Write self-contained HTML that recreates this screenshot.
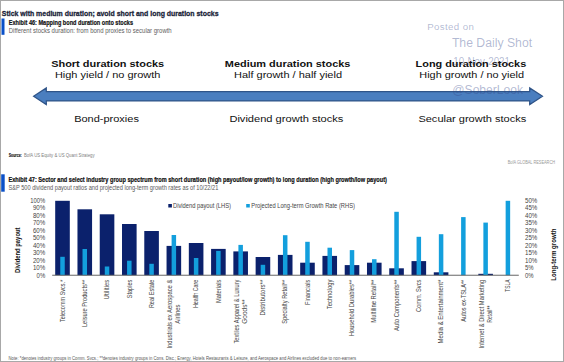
<!DOCTYPE html>
<html><head><meta charset="utf-8"><style>
html,body{margin:0;padding:0;background:#fff;}
body{width:564px;height:362px;overflow:hidden;position:relative;}
svg{position:absolute;left:0;top:0;font-family:"Liberation Sans", sans-serif;}
.frame{position:absolute;left:0;top:0;width:562px;height:360px;border:1px solid #a8a8a8;}
</style></head><body>
<svg width="564" height="362" viewBox="0 0 564 362">
<text x="1.8" y="15.7" font-size="7.9" font-weight="bold" fill="#1a1f38" textLength="216.7" lengthAdjust="spacingAndGlyphs" stroke="#1a1f38" stroke-width="0.3">Stick with medium duration; avoid short and long duration stocks</text>
<rect x="1.5" y="18.5" width="3" height="16.3" fill="#0a50c8"/>
<text x="8.8" y="24.8" font-size="7.0" font-weight="bold" fill="#111" textLength="124.2" lengthAdjust="spacingAndGlyphs" stroke="#111" stroke-width="0.2">Exhibit 46: Mapping bond duration onto stocks</text>
<text x="8.8" y="33.3" font-size="7.2" fill="#5e5e5e" textLength="162.9" lengthAdjust="spacingAndGlyphs">Different stocks duration: from bond proxies to secular growth</text>
<polygon points="33.6,96.2 46.3,87.9 46.3,91.6 529.7,91.6 529.7,87.9 542.5,96.2 529.7,104.6 529.7,100.9 46.3,100.9 46.3,104.6" fill="#4a7ebf" stroke="#2f5488" stroke-width="1.2" stroke-linejoin="miter"/>
<g fill-opacity="0.38"><text x="427.2" y="29.9" font-size="9.7" fill="#34488a" textLength="46.6" lengthAdjust="spacing">Posted on</text><text x="451.9" y="46.5" font-size="12.5" fill="#34488a" textLength="80.2" lengthAdjust="spacingAndGlyphs">The Daily Shot</text><text x="453.3" y="64.6" font-size="10" fill="#34488a" textLength="56.7" lengthAdjust="spacingAndGlyphs">10-Nov-2021</text><text x="452.3" y="94.2" font-size="12.0" fill="#34488a" textLength="70.8" lengthAdjust="spacingAndGlyphs">@SoberLook</text></g>
<text x="51.2" y="66.9" font-size="9.6" font-weight="bold" fill="#111" textLength="113" lengthAdjust="spacingAndGlyphs">Short duration stocks</text>
<text x="54.9" y="77.8" font-size="9.6" fill="#111" textLength="105.4" lengthAdjust="spacingAndGlyphs">High yield / no growth</text>
<text x="224.8" y="66.9" font-size="9.6" font-weight="bold" fill="#111" textLength="125.6" lengthAdjust="spacingAndGlyphs">Medium duration stocks</text>
<text x="234" y="77.8" font-size="9.6" fill="#111" textLength="108" lengthAdjust="spacingAndGlyphs">Half growth / half yield</text>
<text x="415.6" y="66.9" font-size="9.6" font-weight="bold" fill="#111" textLength="110.6" lengthAdjust="spacingAndGlyphs">Long duration stocks</text>
<text x="419.3" y="77.8" font-size="9.6" fill="#111" textLength="104.7" lengthAdjust="spacingAndGlyphs">High growth / no yield</text>
<text x="74.2" y="122" font-size="9.6" fill="#111" textLength="64.7" lengthAdjust="spacingAndGlyphs">Bond-proxies</text>
<text x="229.4" y="122" font-size="9.6" fill="#111" textLength="114" lengthAdjust="spacingAndGlyphs">Dividend growth stocks</text>
<text x="418.4" y="122" font-size="9.6" fill="#111" textLength="107.8" lengthAdjust="spacingAndGlyphs">Secular growth stocks</text>
<text x="8.7" y="156.8" font-size="4.9" font-weight="bold" fill="#111" textLength="13.1" lengthAdjust="spacingAndGlyphs" stroke="#111" stroke-width="0.15">Source:</text>
<text x="23.9" y="156.8" font-size="4.8" fill="#808080" textLength="70.7" lengthAdjust="spacingAndGlyphs">BofA US Equity &amp; US Quant Strategy</text>
<text x="507.7" y="163.5" font-size="5.9" fill="#999" textLength="47.3" lengthAdjust="spacingAndGlyphs">BofA GLOBAL RESEARCH</text>
<rect x="1.2" y="174.3" width="3.5" height="17.4" fill="#0a50c8"/>
<text x="8.4" y="181.8" font-size="6.8" font-weight="bold" fill="#111" textLength="378.5" lengthAdjust="spacingAndGlyphs" stroke="#111" stroke-width="0.2">Exhibit 47: Sector and select industry group spectrum from short duration (high payout/low growth) to long duration (high growth/low payout)</text>
<text x="8.4" y="189.9" font-size="6.8" fill="#5a5a5a" textLength="209.9" lengthAdjust="spacingAndGlyphs">S&amp;P 500 dividend payout ratios and projected long-term growth rates as of 10/22/21</text>
<rect x="55.20" y="200.8" width="14.6" height="74.40" fill="#0b216c"/>
<rect x="60.25" y="256.8" width="4.5" height="18.40" fill="#139fdd"/>
<rect x="77.47" y="209.3" width="14.6" height="65.90" fill="#0b216c"/>
<rect x="82.52" y="249" width="4.5" height="26.20" fill="#139fdd"/>
<rect x="99.74" y="214.3" width="14.6" height="60.90" fill="#0b216c"/>
<rect x="104.79" y="266.5" width="4.5" height="8.70" fill="#139fdd"/>
<rect x="122.01" y="224" width="14.6" height="51.20" fill="#0b216c"/>
<rect x="127.06" y="260.7" width="4.5" height="14.50" fill="#139fdd"/>
<rect x="144.28" y="231" width="14.6" height="44.20" fill="#0b216c"/>
<rect x="149.33" y="263.8" width="4.5" height="11.40" fill="#139fdd"/>
<rect x="166.55" y="245.9" width="14.6" height="29.30" fill="#0b216c"/>
<rect x="171.60" y="235" width="4.5" height="40.20" fill="#139fdd"/>
<rect x="188.82" y="243" width="14.6" height="32.20" fill="#0b216c"/>
<rect x="193.87" y="258" width="4.5" height="17.20" fill="#139fdd"/>
<rect x="211.09" y="248.9" width="14.6" height="26.30" fill="#0b216c"/>
<rect x="216.14" y="250.9" width="4.5" height="24.30" fill="#139fdd"/>
<rect x="233.36" y="251.4" width="14.6" height="23.80" fill="#0b216c"/>
<rect x="238.41" y="244.9" width="4.5" height="30.30" fill="#139fdd"/>
<rect x="255.63" y="257" width="14.6" height="18.20" fill="#0b216c"/>
<rect x="260.68" y="264.8" width="4.5" height="10.40" fill="#139fdd"/>
<rect x="277.90" y="254.9" width="14.6" height="20.30" fill="#0b216c"/>
<rect x="282.95" y="235.2" width="4.5" height="40.00" fill="#139fdd"/>
<rect x="300.17" y="262.7" width="14.6" height="12.50" fill="#0b216c"/>
<rect x="305.22" y="241.8" width="4.5" height="33.40" fill="#139fdd"/>
<rect x="322.44" y="255.9" width="14.6" height="19.30" fill="#0b216c"/>
<rect x="327.49" y="247.7" width="4.5" height="27.50" fill="#139fdd"/>
<rect x="344.71" y="265.1" width="14.6" height="10.10" fill="#0b216c"/>
<rect x="349.76" y="250.1" width="4.5" height="25.10" fill="#139fdd"/>
<rect x="366.98" y="262.7" width="14.6" height="12.50" fill="#0b216c"/>
<rect x="372.03" y="259.2" width="4.5" height="16.00" fill="#139fdd"/>
<rect x="389.25" y="268.3" width="14.6" height="6.90" fill="#0b216c"/>
<rect x="394.30" y="211.8" width="4.5" height="63.40" fill="#139fdd"/>
<rect x="411.52" y="261.1" width="14.6" height="14.10" fill="#0b216c"/>
<rect x="416.57" y="236.8" width="4.5" height="38.40" fill="#139fdd"/>
<rect x="433.79" y="272.3" width="14.6" height="2.90" fill="#0b216c"/>
<rect x="438.84" y="234.2" width="4.5" height="41.00" fill="#139fdd"/>
<rect x="461.11" y="217.1" width="4.5" height="58.10" fill="#139fdd"/>
<rect x="478.33" y="273.8" width="14.6" height="1.40" fill="#0b216c"/>
<rect x="483.38" y="222.6" width="4.5" height="52.60" fill="#139fdd"/>
<rect x="505.65" y="200.8" width="4.5" height="74.40" fill="#139fdd"/>
<rect x="52.2" y="274.75" width="466.6" height="0.95" fill="#5e5e5e"/>
<text x="45.2" y="277.5" font-size="7.0" text-anchor="end" fill="#444" textLength="8.6" lengthAdjust="spacingAndGlyphs">0%</text>
<text x="525.0" y="277.5" font-size="7.0" fill="#444" textLength="8.6" lengthAdjust="spacingAndGlyphs">0%</text>
<text x="45.2" y="270.05" font-size="7.0" text-anchor="end" fill="#444" textLength="12.3" lengthAdjust="spacingAndGlyphs">10%</text>
<text x="525.0" y="270.05" font-size="7.0" fill="#444" textLength="8.6" lengthAdjust="spacingAndGlyphs">5%</text>
<text x="45.2" y="262.6" font-size="7.0" text-anchor="end" fill="#444" textLength="12.3" lengthAdjust="spacingAndGlyphs">20%</text>
<text x="525.0" y="262.6" font-size="7.0" fill="#444" textLength="12.3" lengthAdjust="spacingAndGlyphs">10%</text>
<text x="45.2" y="255.15" font-size="7.0" text-anchor="end" fill="#444" textLength="12.3" lengthAdjust="spacingAndGlyphs">30%</text>
<text x="525.0" y="255.15" font-size="7.0" fill="#444" textLength="12.3" lengthAdjust="spacingAndGlyphs">15%</text>
<text x="45.2" y="247.7" font-size="7.0" text-anchor="end" fill="#444" textLength="12.3" lengthAdjust="spacingAndGlyphs">40%</text>
<text x="525.0" y="247.7" font-size="7.0" fill="#444" textLength="12.3" lengthAdjust="spacingAndGlyphs">20%</text>
<text x="45.2" y="240.25" font-size="7.0" text-anchor="end" fill="#444" textLength="12.3" lengthAdjust="spacingAndGlyphs">50%</text>
<text x="525.0" y="240.25" font-size="7.0" fill="#444" textLength="12.3" lengthAdjust="spacingAndGlyphs">25%</text>
<text x="45.2" y="232.8" font-size="7.0" text-anchor="end" fill="#444" textLength="12.3" lengthAdjust="spacingAndGlyphs">60%</text>
<text x="525.0" y="232.8" font-size="7.0" fill="#444" textLength="12.3" lengthAdjust="spacingAndGlyphs">30%</text>
<text x="45.2" y="225.35" font-size="7.0" text-anchor="end" fill="#444" textLength="12.3" lengthAdjust="spacingAndGlyphs">70%</text>
<text x="525.0" y="225.35" font-size="7.0" fill="#444" textLength="12.3" lengthAdjust="spacingAndGlyphs">35%</text>
<text x="45.2" y="217.9" font-size="7.0" text-anchor="end" fill="#444" textLength="12.3" lengthAdjust="spacingAndGlyphs">80%</text>
<text x="525.0" y="217.9" font-size="7.0" fill="#444" textLength="12.3" lengthAdjust="spacingAndGlyphs">40%</text>
<text x="45.2" y="210.45" font-size="7.0" text-anchor="end" fill="#444" textLength="12.3" lengthAdjust="spacingAndGlyphs">90%</text>
<text x="525.0" y="210.45" font-size="7.0" fill="#444" textLength="12.3" lengthAdjust="spacingAndGlyphs">45%</text>
<text x="45.2" y="203.0" font-size="7.0" text-anchor="end" fill="#444" textLength="15.0" lengthAdjust="spacingAndGlyphs">100%</text>
<text x="525.0" y="203.0" font-size="7.0" fill="#444" textLength="12.3" lengthAdjust="spacingAndGlyphs">50%</text>
<text transform="translate(19.8,250.3) rotate(-90)" text-anchor="middle" font-size="6.3" font-weight="bold" fill="#111" textLength="45.6" lengthAdjust="spacingAndGlyphs">Dividend payout</text>
<text transform="translate(556,254.7) rotate(-90)" text-anchor="middle" font-size="6.3" font-weight="bold" fill="#111" textLength="52.2" lengthAdjust="spacingAndGlyphs">Long-term growth</text>
<rect x="168.3" y="204.0" width="3.6" height="3.5" fill="#0b216c"/>
<text x="173.0" y="208.0" font-size="6.9" fill="#444" textLength="58.0" lengthAdjust="spacingAndGlyphs">Dividend payout (LHS)</text>
<rect x="246.2" y="204.0" width="3.6" height="3.5" fill="#139fdd"/>
<text x="251.3" y="208.0" font-size="6.9" fill="#444" textLength="103.6" lengthAdjust="spacingAndGlyphs">Projected Long-term Growth Rate (RHS)</text>
<text transform="translate(64.70,279.7) rotate(-90)" text-anchor="end" font-size="7.0" fill="#444" textLength="42.4" lengthAdjust="spacingAndGlyphs">Telecomm Svcs.*</text>
<text transform="translate(86.97,279.7) rotate(-90)" text-anchor="end" font-size="7.0" fill="#444" textLength="47.4" lengthAdjust="spacingAndGlyphs">Leisure Products**</text>
<text transform="translate(109.24,279.7) rotate(-90)" text-anchor="end" font-size="7.0" fill="#444" textLength="19.7" lengthAdjust="spacingAndGlyphs">Utilities</text>
<text transform="translate(131.51,279.7) rotate(-90)" text-anchor="end" font-size="7.0" fill="#444" textLength="18.5" lengthAdjust="spacingAndGlyphs">Staples</text>
<text transform="translate(153.78,279.7) rotate(-90)" text-anchor="end" font-size="7.0" fill="#444" textLength="28.4" lengthAdjust="spacingAndGlyphs">Real Estate</text>
<text transform="translate(171.95,279.7) rotate(-90)" text-anchor="end" font-size="7.0" fill="#444" textLength="68.8" lengthAdjust="spacingAndGlyphs">Industrials ex Aerospace &amp;</text>
<text transform="translate(180.15,314.10) rotate(-90)" text-anchor="middle" font-size="7.0" fill="#444" textLength="19.1" lengthAdjust="spacingAndGlyphs">Airlines</text>
<text transform="translate(198.32,279.7) rotate(-90)" text-anchor="end" font-size="7.0" fill="#444" textLength="28.4" lengthAdjust="spacingAndGlyphs">Health Care</text>
<text transform="translate(220.59,279.7) rotate(-90)" text-anchor="end" font-size="7.0" fill="#444" textLength="23.3" lengthAdjust="spacingAndGlyphs">Materials</text>
<text transform="translate(238.76,279.7) rotate(-90)" text-anchor="end" font-size="7.0" fill="#444" textLength="63.8" lengthAdjust="spacingAndGlyphs">Textiles Apparel &amp; Luxury</text>
<text transform="translate(246.96,311.60) rotate(-90)" text-anchor="middle" font-size="7.0" fill="#444" textLength="24.3" lengthAdjust="spacingAndGlyphs">Goods**</text>
<text transform="translate(265.13,279.7) rotate(-90)" text-anchor="end" font-size="7.0" fill="#444" textLength="35.8" lengthAdjust="spacingAndGlyphs">Distributors**</text>
<text transform="translate(287.40,279.7) rotate(-90)" text-anchor="end" font-size="7.0" fill="#444" textLength="44.1" lengthAdjust="spacingAndGlyphs">Specialty Retail**</text>
<text transform="translate(309.67,279.7) rotate(-90)" text-anchor="end" font-size="7.0" fill="#444" textLength="25.3" lengthAdjust="spacingAndGlyphs">Financials</text>
<text transform="translate(331.94,279.7) rotate(-90)" text-anchor="end" font-size="7.0" fill="#444" textLength="29.5" lengthAdjust="spacingAndGlyphs">Technology</text>
<text transform="translate(354.21,279.7) rotate(-90)" text-anchor="end" font-size="7.0" fill="#444" textLength="56.5" lengthAdjust="spacingAndGlyphs">Household Durables**</text>
<text transform="translate(376.48,279.7) rotate(-90)" text-anchor="end" font-size="7.0" fill="#444" textLength="43.0" lengthAdjust="spacingAndGlyphs">Multiline Retail**</text>
<text transform="translate(398.75,279.7) rotate(-90)" text-anchor="end" font-size="7.0" fill="#444" textLength="51.3" lengthAdjust="spacingAndGlyphs">Auto Components**</text>
<text transform="translate(421.02,279.7) rotate(-90)" text-anchor="end" font-size="7.0" fill="#444" textLength="32.2" lengthAdjust="spacingAndGlyphs">Comm. Svcs</text>
<text transform="translate(443.29,279.7) rotate(-90)" text-anchor="end" font-size="7.0" fill="#444" textLength="63.8" lengthAdjust="spacingAndGlyphs">Media &amp; Entertainment*</text>
<text transform="translate(465.56,279.7) rotate(-90)" text-anchor="end" font-size="7.0" fill="#444" textLength="42.0" lengthAdjust="spacingAndGlyphs">Autos ex-TSLA**</text>
<text transform="translate(483.73,279.7) rotate(-90)" text-anchor="end" font-size="7.0" fill="#444" textLength="68.9" lengthAdjust="spacingAndGlyphs">Internet &amp; Direct Marketing</text>
<text transform="translate(491.93,314.15) rotate(-90)" text-anchor="middle" font-size="7.0" fill="#444" textLength="17.1" lengthAdjust="spacingAndGlyphs">Retail**</text>
<text transform="translate(510.10,279.5) rotate(-90)" text-anchor="end" font-size="7.0" fill="#444" textLength="12.2" lengthAdjust="spacingAndGlyphs">TSLA</text>
<text x="8.5" y="360.1" font-size="5.2" fill="#555" textLength="347.5" lengthAdjust="spacingAndGlyphs">Note: *denotes industry groups in Comm. Svcs.; **denotes industry groups in Cons. Disc.; Energy, Hotels Restaurants &amp; Leisure, and Aerospace and Airlines excluded due to non-earners</text>
</svg>
<div class="frame"></div>
</body></html>
